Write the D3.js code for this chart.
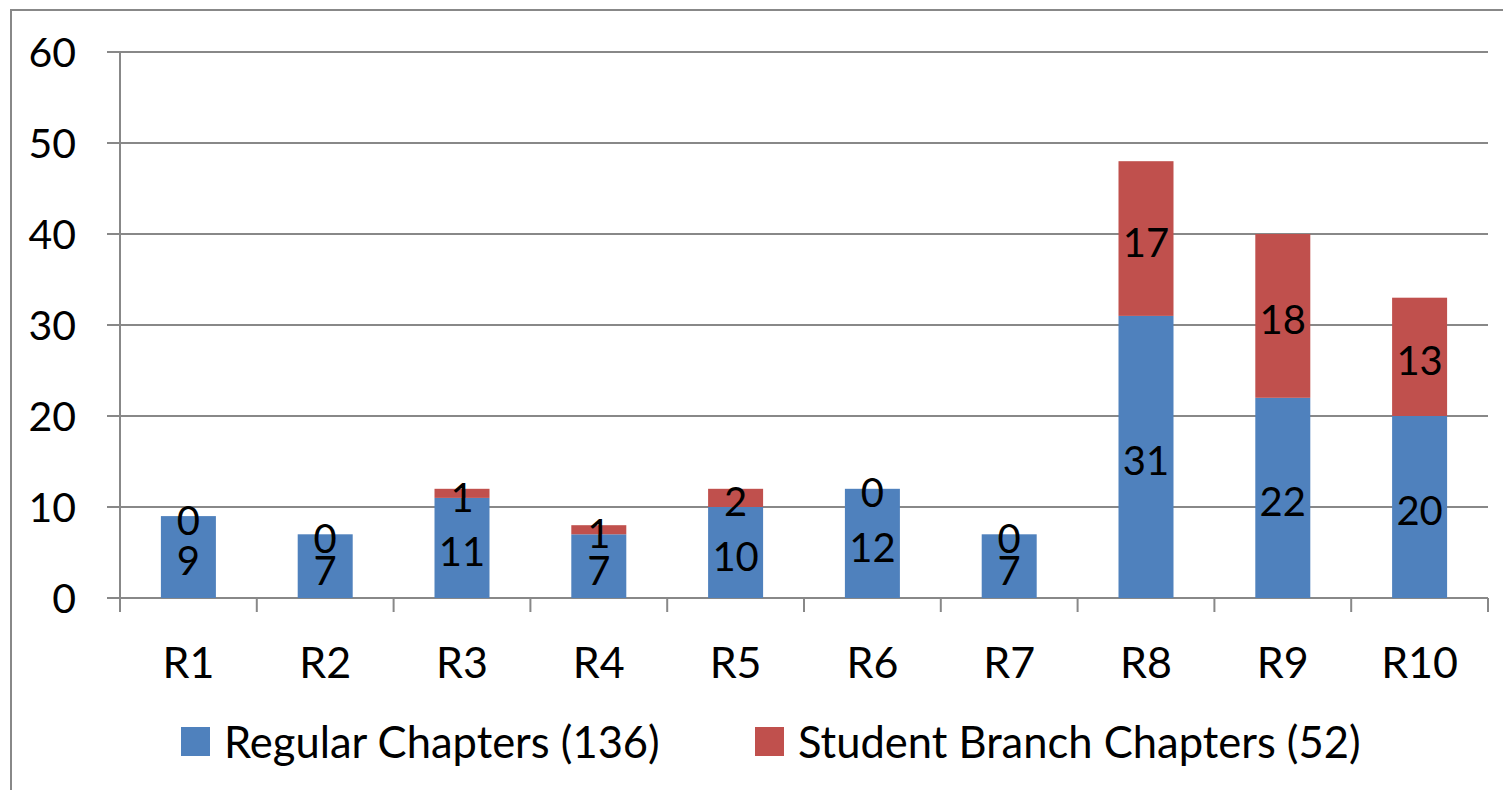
<!DOCTYPE html>
<html>
<head>
<meta charset="utf-8">
<script src="https://cdn.jsdelivr.net/npm/d3@7"></script>
<style>
  html, body { margin: 0; padding: 0; background: #fff; }
  svg { display: block; font-family: Lato, "Open Sans", sans-serif; }
</style>
</head>
<body>
<div id="chart"></div>
<script>
// categories and series
const regions = ["R1", "R2", "R3", "R4", "R5", "R6", "R7", "R8", "R9", "R10"]
const regular = [9, 7, 11, 7, 10, 12, 7, 31, 22, 20]
const student = [0, 0, 1, 1, 2, 0, 0, 17, 18, 13]
const seriesNames = ["Regular Chapters (136)", "Student Branch Chapters (52)"]
const yTicks = [0, 10, 20, 30, 40, 50, 60]

const W = 1503, H = 790
const margin = { left: 120, right: 15, top: 52, bottom: 192 }

const svg = d3.select("#chart").append("svg")
  .attr("width", W)
  .attr("height", H)

// outer chart border (runs off the right/bottom edge)
svg.append("rect")
  .attr("x", 11).attr("y", 10)
  .attr("width", W).attr("height", H)
  .attr("fill", "none")
  .attr("stroke", "#888")
  .attr("stroke-width", 2)

const data = regions.map((r, i) => ({ region: r, regular: regular[i], student: student[i] }))
const keys = ["regular", "student"]
const color = d3.scaleOrdinal().domain(keys).range(["#4F81BD", "#C0504D"])

const x = d3.scaleBand()
  .domain(regions)
  .range([margin.left, W - margin.right])
  .paddingInner(0)
  .paddingOuter(0)

const y = d3.scaleLinear()
  .domain([0, 60])
  .range([H - margin.bottom, margin.top])

// gridlines + y tick marks
svg.append("g")
  .selectAll("line")
  .data(yTicks)
  .join("line")
  .attr("x1", margin.left - 13)
  .attr("x2", W - margin.right)
  .attr("y1", d => y(d))
  .attr("y2", d => y(d))
  .attr("stroke", "#888")
  .attr("stroke-width", 2)

// y labels
svg.append("g")
  .selectAll("text")
  .data(yTicks)
  .join("text")
  .attr("x", 76)
  .attr("y", d => y(d))
  .attr("dy", "0.36em")
  .attr("text-anchor", "end")
  .attr("font-size", 41)
  .attr("fill", "#000")
  .text(d => d)

// stacked bars
const stack = d3.stack().keys(keys)(data)
const barW = 55
svg.append("g")
  .selectAll("g")
  .data(stack)
  .join("g")
  .attr("fill", d => color(d.key))
  .selectAll("rect")
  .data(d => d)
  .join("rect")
  .attr("x", d => x(d.data.region) + x.bandwidth() / 2 - barW / 2)
  .attr("y", d => y(d[1]))
  .attr("width", barW)
  .attr("height", d => y(d[0]) - y(d[1]))

// y axis line
svg.append("line")
  .attr("x1", margin.left).attr("x2", margin.left)
  .attr("y1", y(60)).attr("y2", y(0) + 14)
  .attr("stroke", "#888")
  .attr("stroke-width", 2)

// x tick marks at category boundaries
const bounds = regions.map(r => x(r)).concat([x(regions[regions.length - 1]) + x.bandwidth()])
svg.append("g")
  .selectAll("line")
  .data(bounds)
  .join("line")
  .attr("x1", d => d).attr("x2", d => d)
  .attr("y1", y(0)).attr("y2", y(0) + 14)
  .attr("stroke", "#888")
  .attr("stroke-width", 2)

// data labels
svg.append("g")
  .selectAll("g")
  .data(stack)
  .join("g")
  .selectAll("text")
  .data(d => d)
  .join("text")
  .attr("x", d => x(d.data.region) + x.bandwidth() / 2)
  .attr("y", d => y((d[0] + d[1]) / 2))
  .attr("dy", "0.46em")
  .attr("text-anchor", "middle")
  .attr("font-size", 40)
  .attr("fill", "#000")
  .text(d => d[1] - d[0])

// category labels
svg.append("g")
  .selectAll("text")
  .data(regions)
  .join("text")
  .attr("x", d => x(d) + x.bandwidth() / 2)
  .attr("y", 678)
  .attr("text-anchor", "middle")
  .attr("font-size", 43)
  .attr("fill", "#000")
  .text(d => d)

// legend
const legendX = [181, 755]
const legend = svg.append("g")
  .selectAll("g")
  .data(keys)
  .join("g")
  .attr("transform", (d, i) => `translate(${legendX[i]},727)`)
legend.append("rect")
  .attr("width", 29)
  .attr("height", 29)
  .attr("fill", d => color(d))
legend.append("text")
  .attr("x", 43)
  .attr("y", 31)
  .attr("font-size", 43.5)
  .attr("fill", "#000")
  .text((d, i) => seriesNames[i])
</script>
</body>
</html>
